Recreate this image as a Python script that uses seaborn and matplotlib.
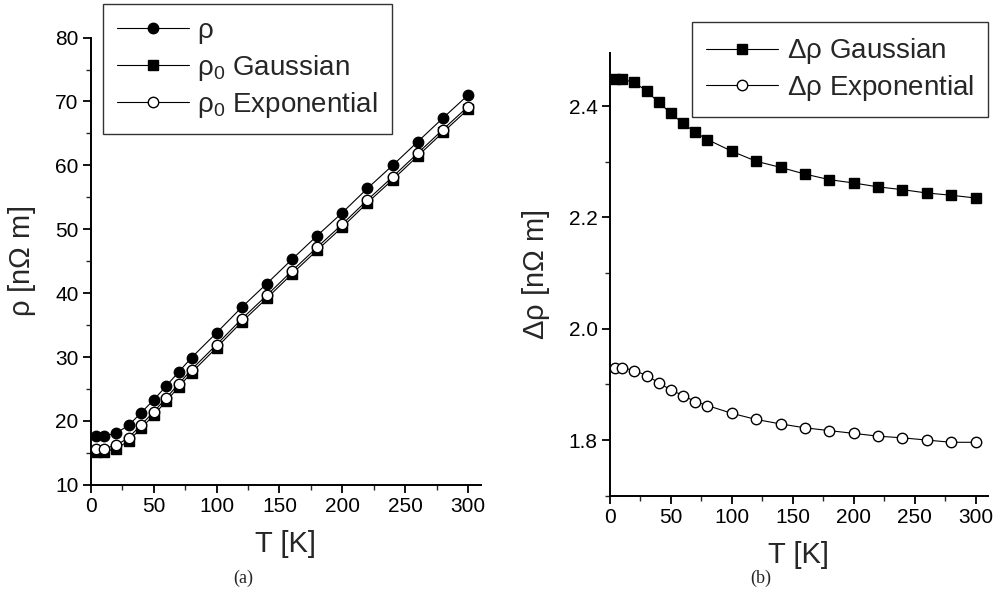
import numpy as np
import pandas as pd
import matplotlib
matplotlib.use("Agg")
import matplotlib.pyplot as plt
import seaborn as sns
from matplotlib.ticker import MultipleLocator
from matplotlib.lines import Line2D

# ---------------- data ----------------
T = [4, 10, 20, 30, 40, 50, 60, 70, 80, 100, 120, 140, 160, 180, 200, 220, 240, 260, 280, 300]
rho = [17.6, 17.6, 18.1, 19.3, 21.3, 23.3, 25.5, 27.7, 29.9, 33.8, 37.8, 41.5, 45.3, 49.0,
       52.6, 56.4, 60.0, 63.7, 67.4, 71.0]
rho0_gauss = [15.15, 15.15, 15.66, 16.87, 18.89, 20.91, 23.13, 25.35, 27.56, 31.48, 35.5,
              39.21, 43.02, 46.73, 50.34, 54.15, 57.75, 61.46, 65.16, 68.77]
rho0_exp = [15.67, 15.67, 16.18, 17.38, 19.40, 21.41, 23.62, 25.83, 28.04, 31.95, 35.96,
            39.67, 43.48, 47.18, 50.79, 54.59, 58.20, 61.90, 65.60, 69.20]
drho_gauss = [2.449, 2.448, 2.443, 2.427, 2.407, 2.387, 2.369, 2.353, 2.340, 2.319, 2.301,
              2.290, 2.278, 2.268, 2.262, 2.255, 2.250, 2.244, 2.240, 2.235]
drho_exp = [1.930, 1.930, 1.925, 1.916, 1.903, 1.890, 1.880, 1.869, 1.862, 1.848, 1.837,
            1.829, 1.822, 1.817, 1.812, 1.807, 1.804, 1.800, 1.796, 1.796]

left_labels = [r"$\mathrm{\rho}$", r"$\mathrm{\rho_0}$ Gaussian", r"$\mathrm{\rho_0}$ Exponential"]
right_labels = [r"$\mathrm{\Delta\rho}$ Gaussian", r"$\mathrm{\Delta\rho}$ Exponential"]

sns.set_style("ticks")
plt.rcParams["font.family"] = ["Liberation Sans", "DejaVu Sans"]
plt.rcParams["mathtext.fontset"] = "custom"
plt.rcParams["mathtext.rm"] = "Liberation Sans"
plt.rcParams["mathtext.it"] = "Liberation Sans"

fig = plt.figure(figsize=(9.94, 6.06), dpi=100)
axL = fig.add_axes([0.0915, 0.200, 0.392, 0.738])
axR = fig.add_axes([0.6137, 0.182, 0.380, 0.730])

dfL = pd.DataFrame({
    "T": T * 3,
    "val": rho + rho0_gauss + rho0_exp,
    "series": [left_labels[0]] * len(T) + [left_labels[1]] * len(T) + [left_labels[2]] * len(T),
})
dfR = pd.DataFrame({
    "T": T * 2,
    "val": drho_gauss + drho_exp,
    "series": [right_labels[0]] * len(T) + [right_labels[1]] * len(T),
})

ms = 7.5
styleL = [("o", "black"), ("s", "black"), ("o", "white")]
for lab, (mk, fc) in zip(left_labels, styleL):
    sub = dfL[dfL["series"] == lab]
    sns.lineplot(data=sub, x="T", y="val", ax=axL, color="black", lw=0.8,
                 marker=mk, markersize=ms, markerfacecolor=fc, markeredgecolor="black",
                 markeredgewidth=1.0, legend=False)

styleR = [("s", "black"), ("o", "white")]
for lab, (mk, fc) in zip(right_labels, styleR):
    sub = dfR[dfR["series"] == lab]
    sns.lineplot(data=sub, x="T", y="val", ax=axR, color="black", lw=0.8,
                 marker=mk, markersize=ms, markerfacecolor=fc, markeredgecolor="black",
                 markeredgewidth=1.0, legend=False)

for ax in (axL, axR):
    ax.set_xlim(0, 310)
    ax.xaxis.set_major_locator(MultipleLocator(50))
    ax.xaxis.set_minor_locator(MultipleLocator(25))
    for s in ("top", "right"):
        ax.spines[s].set_visible(False)
    for s in ("left", "bottom"):
        ax.spines[s].set_linewidth(1.4)
        ax.spines[s].set_color("black")
    ax.tick_params(axis="both", which="major", direction="out", length=6, width=1.3,
                   labelsize=15, colors="black", pad=3)
    ax.tick_params(axis="both", which="minor", direction="out", length=3.5, width=1.0)
    ax.set_xlabel("T [K]", fontsize=21, labelpad=10)

axL.set_ylim(10, 80)
axL.yaxis.set_major_locator(MultipleLocator(10))
axL.yaxis.set_minor_locator(MultipleLocator(5))
axL.set_ylabel(r"$\mathrm{\rho}$ [n$\mathrm{\Omega}$ m]", fontsize=21, labelpad=12)

axR.set_ylim(1.7, 2.495)
axR.set_yticks([1.8, 2.0, 2.2, 2.4])
axR.yaxis.set_minor_locator(MultipleLocator(0.1))
axR.set_ylabel(r"$\mathrm{\Delta\rho}$ [n$\mathrm{\Omega}$ m]", fontsize=21, labelpad=12)

def handles(styles):
    return [Line2D([0], [0], color="black", lw=0.8, marker=mk, markersize=ms,
                   markerfacecolor=fc, markeredgecolor="black") for mk, fc in styles]

legL = axL.legend(handles(styleL), left_labels, loc="upper left",
                  bbox_to_anchor=(0.03, 1.075), borderaxespad=0, fontsize=20,
                  frameon=True, fancybox=False, edgecolor="black", handlelength=2.6,
                  handletextpad=0.3, labelspacing=0.25, borderpad=0.5)
legL.get_frame().set_linewidth(1.0)
legR = axR.legend(handles(styleR), right_labels, loc="upper right",
                  bbox_to_anchor=(1.0, 1.07), borderaxespad=0, fontsize=20,
                  frameon=True, fancybox=False, edgecolor="black", handlelength=2.6,
                  handletextpad=0.3, labelspacing=0.25, borderpad=0.5)
legR.get_frame().set_linewidth(1.0)

fig.text(0.245, 0.045, "(a)", fontsize=13, family=["Liberation Serif"], ha="center", va="center")
fig.text(0.765, 0.045, "(b)", fontsize=13, family=["Liberation Serif"], ha="center", va="center")

fig.savefig("out.png", dpi=100)
